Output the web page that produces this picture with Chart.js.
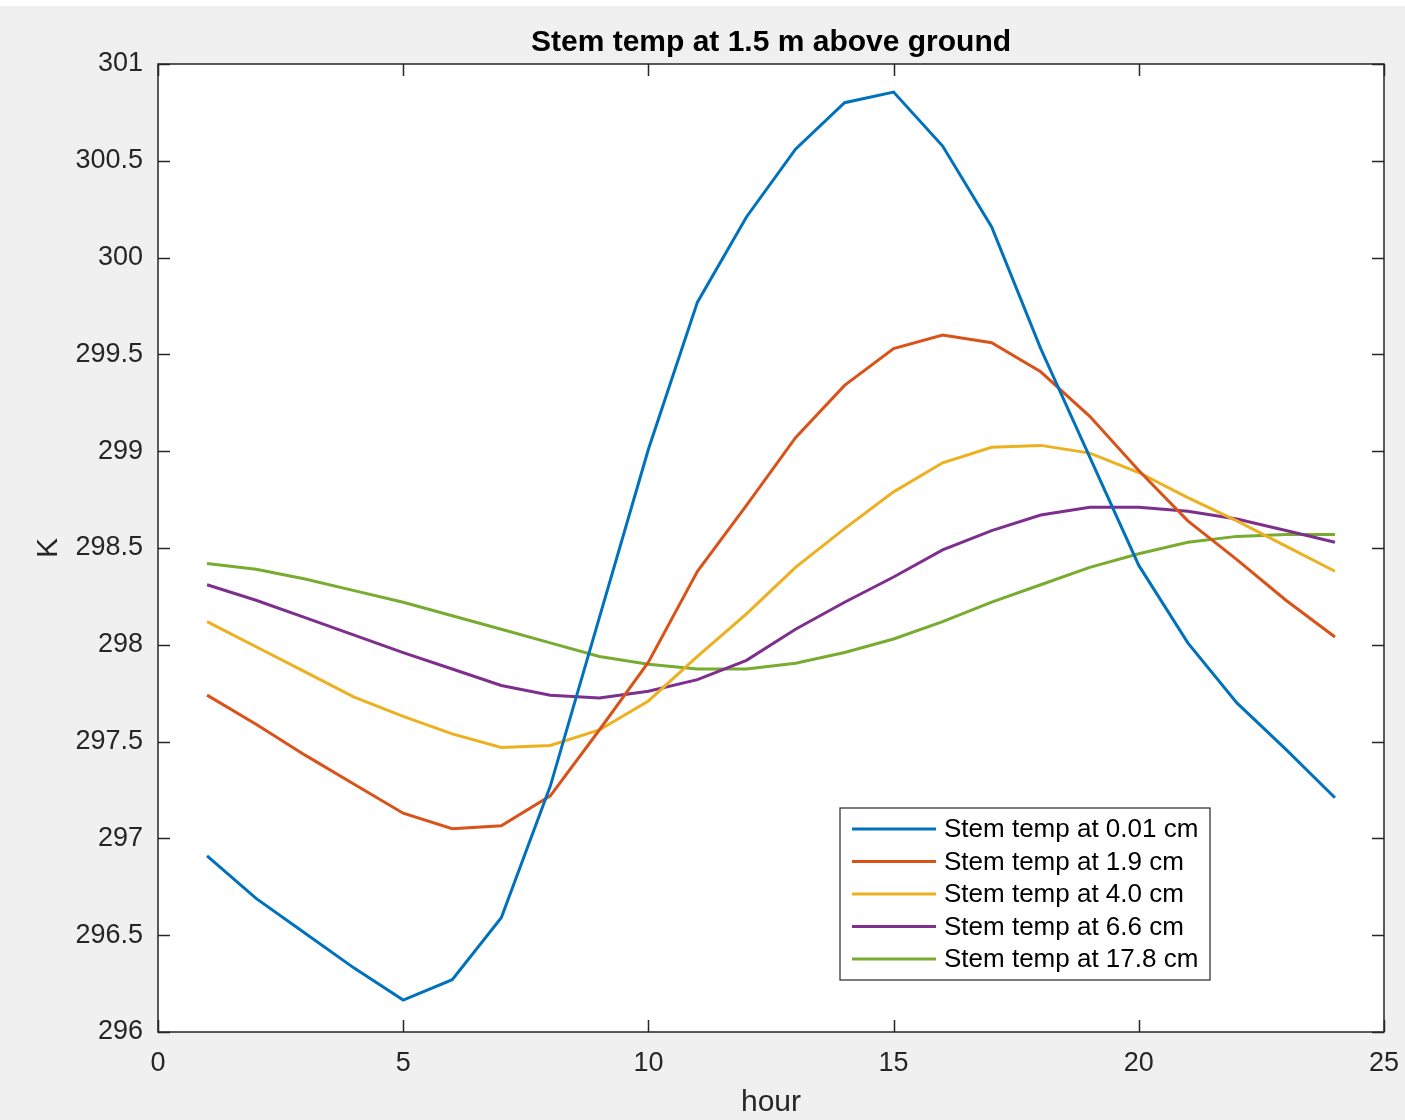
<!DOCTYPE html>
<html>
<head>
<meta charset="utf-8">
<script src="https://cdn.jsdelivr.net/npm/chart.js@4/dist/chart.umd.min.js"></script>
<style>
html,body{margin:0;padding:0;background:#f0f0f0;}
#wrap{width:1405px;height:1120px;position:relative;}
canvas{display:block;}
</style>
</head>
<body>
<div id="wrap"><canvas id="c" width="1405" height="1120"></canvas></div>
<script>
const hours = [1,2,3,4,5,6,7,8,9,10,11,12,13,14,15,16,17,18,19,20,21,22,23,24];
const seriesLabels = ["Stem temp at 0.01 cm","Stem temp at 1.9 cm","Stem temp at 4.0 cm","Stem temp at 6.6 cm","Stem temp at 17.8 cm"];
const temp001 = [296.91,296.69,296.51,296.33,296.165,296.27,296.59,297.27,298.14,299.01,299.77,300.21,300.56,300.80,300.855,300.576,300.158,299.53,298.97,298.41,298.01,297.70,297.46,297.21];
const temp19  = [297.74,297.59,297.43,297.28,297.13,297.05,297.065,297.22,297.56,297.91,298.38,298.72,299.07,299.34,299.53,299.60,299.56,299.41,299.18,298.90,298.64,298.44,298.23,298.04];
const temp40  = [298.12,297.99,297.86,297.73,297.63,297.54,297.47,297.48,297.56,297.71,297.94,298.16,298.40,298.60,298.79,298.94,299.02,299.03,298.99,298.89,298.76,298.64,298.51,298.38];
const temp66  = [298.31,298.23,298.14,298.05,297.96,297.875,297.79,297.74,297.725,297.76,297.82,297.92,298.08,298.22,298.35,298.49,298.59,298.67,298.71,298.71,298.69,298.65,298.59,298.53];
const temp178 = [298.42,298.39,298.34,298.28,298.22,298.15,298.08,298.01,297.94,297.90,297.875,297.875,297.905,297.96,298.03,298.12,298.22,298.31,298.40,298.47,298.53,298.56,298.57,298.57];
const colors = ["#0072BD","#D95319","#EDB120","#7E2F8E","#77AC30"];
const xTicks = [0,5,10,15,20,25];
const yTicks = [296,296.5,297,297.5,298,298.5,299,299.5,300,300.5,301];
const titleText = "Stem temp at 1.5 m above ground";
const xLabel = "hour";
const yLabel = "K";

const allSeries = [temp001,temp19,temp40,temp66,temp178];
const datasets = allSeries.map((arr,i)=>({
  label: seriesLabels[i],
  data: arr.map((v,j)=>({x:hours[j], y:v})),
  borderColor: colors[i],
  backgroundColor: colors[i],
  borderWidth: 3,
  pointRadius: 0,
  tension: 0,
  fill: false
}));

const FONT = "'Liberation Sans', Arial, Helvetica, sans-serif";
const AX = "#262626";

const decor = {
  id: 'decor',
  beforeDraw(chart){
    const ctx = chart.ctx, a = chart.chartArea;
    ctx.save();
    ctx.fillStyle = '#f0f0f0';
    ctx.fillRect(0,0,chart.width,chart.height);
    ctx.fillStyle = '#ffffff';
    ctx.fillRect(0,0,chart.width,6);
    ctx.fillRect(a.left,a.top,a.right-a.left,a.bottom-a.top);
    ctx.restore();
  },
  afterDatasetsDraw(chart){
    const ctx = chart.ctx, a = chart.chartArea;
    const xs = chart.scales.x, ys = chart.scales.y;
    ctx.save();
    ctx.strokeStyle = AX;
    ctx.lineWidth = 1.5;
    ctx.strokeRect(a.left,a.top,a.right-a.left,a.bottom-a.top);
    const tl = 12;
    ctx.beginPath();
    xTicks.forEach(v=>{
      const px = Math.round(xs.getPixelForValue(v))+0.5;
      ctx.moveTo(px,a.bottom); ctx.lineTo(px,a.bottom-tl);
      ctx.moveTo(px,a.top); ctx.lineTo(px,a.top+tl);
    });
    yTicks.forEach(v=>{
      const py = Math.round(ys.getPixelForValue(v))+0.5;
      ctx.moveTo(a.left,py); ctx.lineTo(a.left+tl,py);
      ctx.moveTo(a.right,py); ctx.lineTo(a.right-tl,py);
    });
    ctx.stroke();

    // legend
    const lx = 840, ly = 808, lw = 370, lh = 172;
    ctx.fillStyle = '#ffffff';
    ctx.fillRect(lx,ly,lw,lh);
    ctx.lineWidth = 1.2;
    ctx.strokeStyle = AX;
    ctx.strokeRect(lx,ly,lw,lh);
    ctx.font = "26px " + FONT;
    ctx.textBaseline = 'middle';
    ctx.textAlign = 'left';
    chart.data.datasets.forEach((ds,i)=>{
      const ry = 829 + i*32.5;
      ctx.strokeStyle = ds.borderColor;
      ctx.lineWidth = 3;
      ctx.beginPath();
      ctx.moveTo(852,ry); ctx.lineTo(936,ry);
      ctx.stroke();
      ctx.fillStyle = '#000000';
      ctx.fillText(ds.label, 944, ry+1);
    });
    ctx.restore();
  },
  afterDraw(chart){
    const ctx = chart.ctx, a = chart.chartArea;
    ctx.save();
    ctx.fillStyle = '#000000';
    ctx.textAlign = 'center';
    ctx.textBaseline = 'alphabetic';
    ctx.font = "bold 30px " + FONT;
    ctx.fillText(titleText, (a.left+a.right)/2, 51);
    ctx.fillStyle = AX;
    ctx.font = "30px " + FONT;
    ctx.fillText(xLabel, (a.left+a.right)/2, 1111);
    ctx.translate(57, (a.top+a.bottom)/2);
    ctx.rotate(-Math.PI/2);
    ctx.fillText(yLabel, 0, 0);
    ctx.restore();
  }
};

new Chart(document.getElementById('c'), {
  type: 'line',
  data: { datasets },
  plugins: [decor],
  options: {
    responsive: false,
    animation: false,
    layout: { padding: { top: 64, right: 21, left: 0, bottom: 0 } },
    plugins: { legend: { display: false }, title: { display: false }, tooltip: { enabled: false } },
    scales: {
      x: {
        type: 'linear', min: 0, max: 25,
        afterBuildTicks(s){ s.ticks = xTicks.map(v=>({value:v})); },
        afterFit(s){ s.height = 88; s.paddingLeft = 0; s.paddingRight = 0; },
        grid: { display: false, drawTicks: false },
        border: { display: false },
        ticks: { color: AX, font: { family: FONT, size: 27 }, padding: 15, maxRotation: 0, callback: v => String(v) }
      },
      y: {
        type: 'linear', min: 296, max: 301,
        afterBuildTicks(s){ s.ticks = yTicks.map(v=>({value:v})); },
        afterFit(s){ s.width = 158; s.paddingTop = 0; s.paddingBottom = 0; },
        grid: { display: false, drawTicks: false },
        border: { display: false },
        ticks: { color: AX, font: { family: FONT, size: 27 }, padding: 15, callback: v => String(v) }
      }
    }
  }
});
</script>
</body>
</html>
